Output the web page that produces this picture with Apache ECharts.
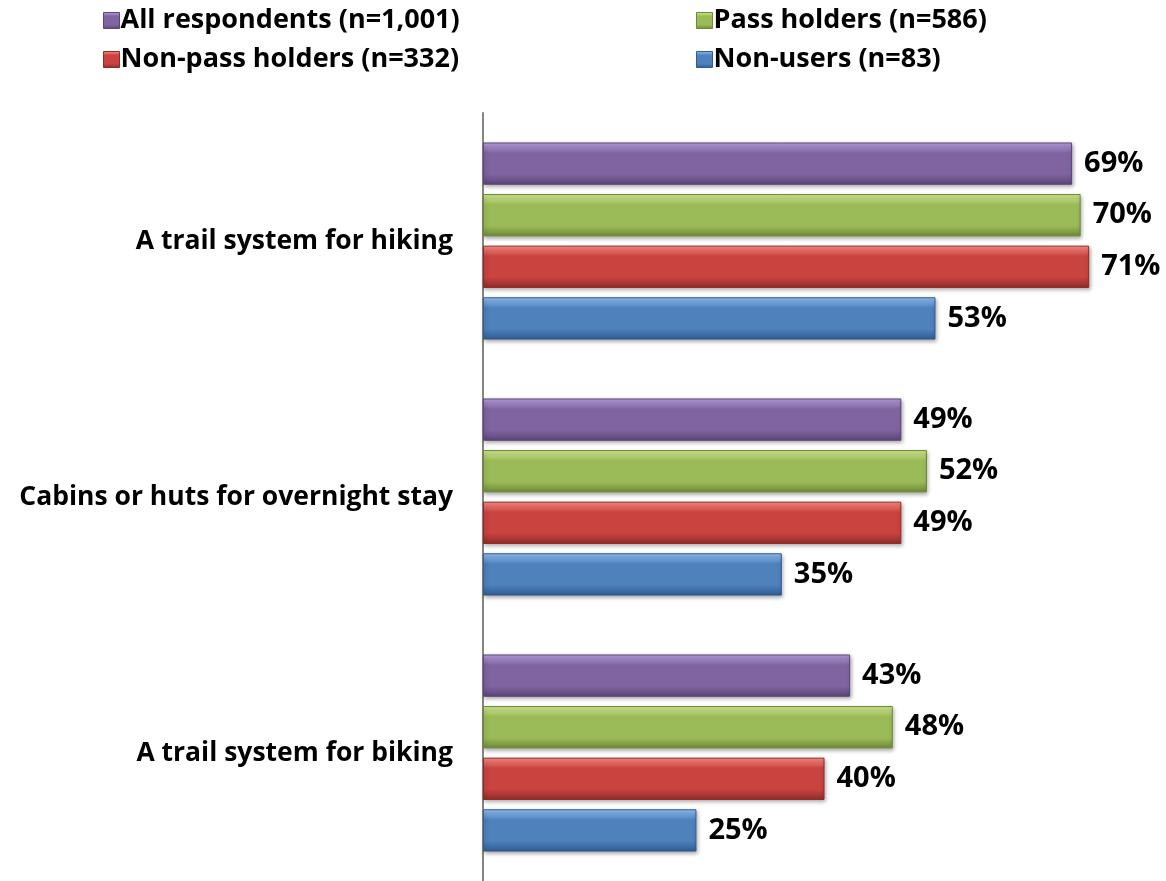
<!DOCTYPE html>
<html>
<head>
<meta charset="utf-8">
<script src="https://cdn.jsdelivr.net/npm/echarts@6/dist/echarts.min.js"></script>
<style>
  html, body { margin: 0; padding: 0; background: #fff; }
  #main { width: 1166px; height: 881px; }
</style>
</head>
<body>
<div id="main"></div>
<script>
// data
var categories = ['A trail system for hiking', 'Cabins or huts for overnight stay', 'A trail system for biking'];
var seriesNames = ['All respondents (n=1,001)', 'Pass holders (n=586)', 'Non-pass holders (n=332)', 'Non-users (n=83)'];
var allRespondents = [69, 49, 43];
var passHolders = [70, 52, 48];
var nonPassHolders = [71, 49, 40];
var nonUsers = [53, 35, 25];

// office-like palette: [light top, base, dark bottom]
var palette = [
  ['#b9a0e0', '#8064a2', '#5c4578'],
  ['#d5ec92', '#9bbb59', '#6d8a34'],
  ['#ff8f8a', '#c9433f', '#8e2c29'],
  ['#94c4f4', '#4f81bd', '#2f5c92']
];

function grad(c) {
  return new echarts.graphic.LinearGradient(0, 0, 0, 1, [
    { offset: 0, color: c[0] },
    { offset: 0.25, color: c[1] },
    { offset: 0.75, color: c[1] },
    { offset: 1, color: c[2] }
  ]);
}

var font = '"Open Sans", Lato, sans-serif';
var values = [allRespondents, passHolders, nonPassHolders, nonUsers];

var chart = echarts.init(document.getElementById('main'));

var series = values.map(function (v, i) {
  return {
    name: seriesNames[i],
    type: 'bar',
    data: v,
    barGap: '22%',
    barCategoryGap: '23%',
    itemStyle: {
      color: grad(palette[i]),
      borderColor: palette[i][2],
      borderWidth: 1,
      shadowColor: 'rgba(0,0,0,0.35)',
      shadowBlur: 4,
      shadowOffsetX: 1,
      shadowOffsetY: 2
    },
    label: {
      show: true,
      position: 'right',
      distance: 12,
      formatter: '{c}%',
      color: '#000',
      fontFamily: font,
      fontWeight: 'bold',
      fontSize: 29
    }
  };
});

// one legend per item, laid out in two columns like the original
var legendPos = [[98, 2], [691, 2], [98, 41], [691, 41]];
var legends = seriesNames.map(function (n, i) {
  return {
    left: legendPos[i][0],
    top: legendPos[i][1],
    itemWidth: 16,
    itemHeight: 16,
    icon: 'rect',
    data: [{ name: n, itemStyle: { color: grad(palette[i]), borderColor: palette[i][2], borderWidth: 1 } }],
    textStyle: {
      fontFamily: font,
      fontWeight: 'bold',
      fontSize: 27,
      color: '#000',
      padding: [0, 0, 0, -4]
    }
  };
});

var option = {
  animation: false,
  legend: legends,
  grid: {
    left: 483,
    right: 0,
    top: 113,
    bottom: 0,
    containLabel: false
  },
  xAxis: {
    type: 'value',
    min: 0,
    max: 80,
    show: false,
    splitLine: { show: false }
  },
  yAxis: {
    type: 'category',
    inverse: true,
    data: categories,
    axisLine: { show: true, lineStyle: { color: '#868686', width: 2 } },
    axisTick: { show: false },
    axisLabel: {
      margin: 30,
      color: '#000',
      fontFamily: font,
      fontWeight: 'bold',
      fontSize: 26.5
    }
  },
  series: series
};

chart.setOption(option);
</script>
</body>
</html>
